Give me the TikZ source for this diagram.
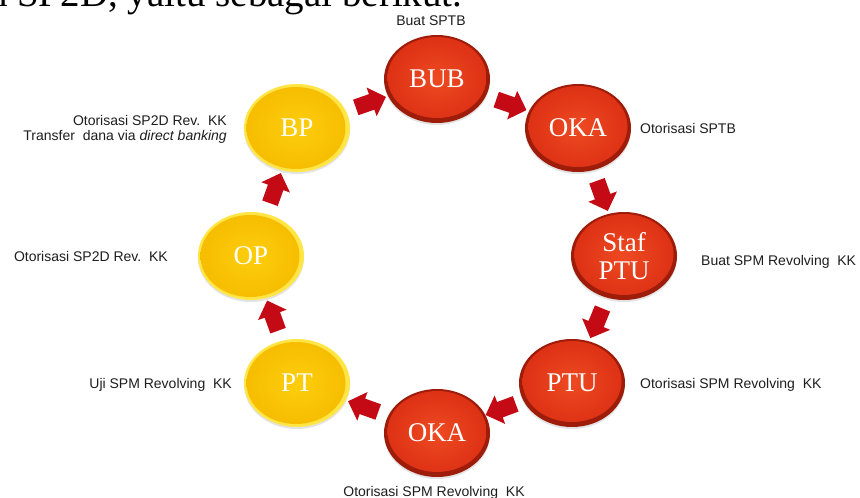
\documentclass[tikz,border=0pt]{standalone}
\usepackage{fontspec}
\setmainfont{Liberation Serif}
\newfontfamily\labelfont{Liberation Sans}
\usetikzlibrary{shapes.geometric,shapes.arrows,shadows}

\definecolor{ballred}{RGB}{220,48,20}
\definecolor{ballredcore}{RGB}{238,74,34}
\definecolor{ballredrim}{RGB}{158,28,10}
\definecolor{ballyellow}{RGB}{246,188,0}
\definecolor{ballyellowcore}{RGB}{253,206,12}
\definecolor{ballyellowrim}{RGB}{255,230,70}
\definecolor{flowred}{RGB}{196,10,20}
\definecolor{labelgray}{RGB}{30,30,30}

\tikzset{
  ball/.style={ellipse, inner sep=0pt, minimum width=106pt, minimum height=88pt,
    text=white, align=center, font=\fontsize{27}{28}\selectfont,
    drop shadow={shadow xshift=0pt, shadow yshift=-2pt, opacity=0.22}},
  redball/.style={ball, fill=ballredrim,
    path picture={\shade[inner color=ballredcore, outer color=ballred]
      ([yshift=1.5pt]path picture bounding box.center) ellipse [x radius=49.5pt, y radius=40.5pt];}},
  yellowball/.style={ball, fill=ballyellowrim,
    path picture={\shade[inner color=ballyellowcore, outer color=ballyellow]
      ([xshift=-1pt]path picture bounding box.center) ellipse [x radius=49.5pt, y radius=41pt];}},
  flow/.style={single arrow, fill=flowred, draw=none, inner xsep=0pt, inner ysep=8pt,
    minimum height=32pt, single arrow head extend=7pt, single arrow head indent=0pt,
    sloped, allow upside down, anchor=center},
  lbl/.style={inner sep=0pt, text=labelgray, font=\labelfont\fontsize{14}{15}\selectfont}
}

\begin{document}
\begin{tikzpicture}[x=1pt, y=-1pt]
  \useasboundingbox (0,0) rectangle (860,498);
  \fill[white] (0,0) rectangle (860,498);

  % sentence running above the cycle
  \begin{scope}
    \clip (0,0) rectangle (860,498);
    \node[anchor=base west, inner sep=0pt, font=\fontsize{39}{42}\selectfont]
      (intro) at (-49,6) {dan SP2D, yaitu sebagai berikut.};
  \end{scope}

  % actors
  \node[redball]    (bub)  at (437,79)  {BUB};
  \node[redball]    (oka1) at (578,128) {OKA};
  \node[redball]    (staf) at (624,256) {Staf\\PTU};
  \node[redball]    (ptu)  at (572,383) {PTU};
  \node[redball]    (oka2) at (437,433) {OKA};
  \node[yellowball] (pt)   at (297,383) {PT};
  \node[yellowball] (op)   at (251,256) {OP};
  \node[yellowball] (bp)   at (297,128) {BP};

  % clockwise flow
  \path (bp)   -- node[flow] (f1) {} (bub);
  \path (bub)  -- node[flow] (f2) {} (oka1);
  \path (oka1) -- node[flow] (f3) {} (staf);
  \path (staf) -- node[flow] (f4) {} (ptu);
  \path (ptu)  -- node[flow] (f5) {} (oka2);
  \path (oka2) -- node[flow] (f6) {} (pt);
  \path (pt)   -- node[flow] (f7) {} (op);
  \path (op)   -- node[flow] (f8) {} (bp);

  % activities
  \node[lbl, anchor=base]      (lbub)  at (431,25)  {Buat SPTB};
  \node[lbl, anchor=base west] (loka1) at (640,133) {Otorisasi SPTB};
  \node[lbl, anchor=base west] (lstaf) at (701,265) {Buat SPM Revolving~~KK};
  \node[lbl, anchor=base west] (lptu)  at (640,388) {Otorisasi SPM Revolving~~KK};
  \node[lbl, anchor=base]      (loka2) at (434,496) {Otorisasi SPM Revolving~~KK};
  \node[lbl, anchor=base east] (lpt)   at (232,388) {Uji SPM Revolving~~KK};
  \node[lbl, anchor=base east] (lop)   at (168,261) {Otorisasi SP2D Rev.~~KK};
  \node[lbl, anchor=east, align=right] (lbp) at (227,129)
    {Otorisasi SP2D Rev.~~KK\\Transfer~~dana via \textit{direct banking}};
\end{tikzpicture}
\end{document}
